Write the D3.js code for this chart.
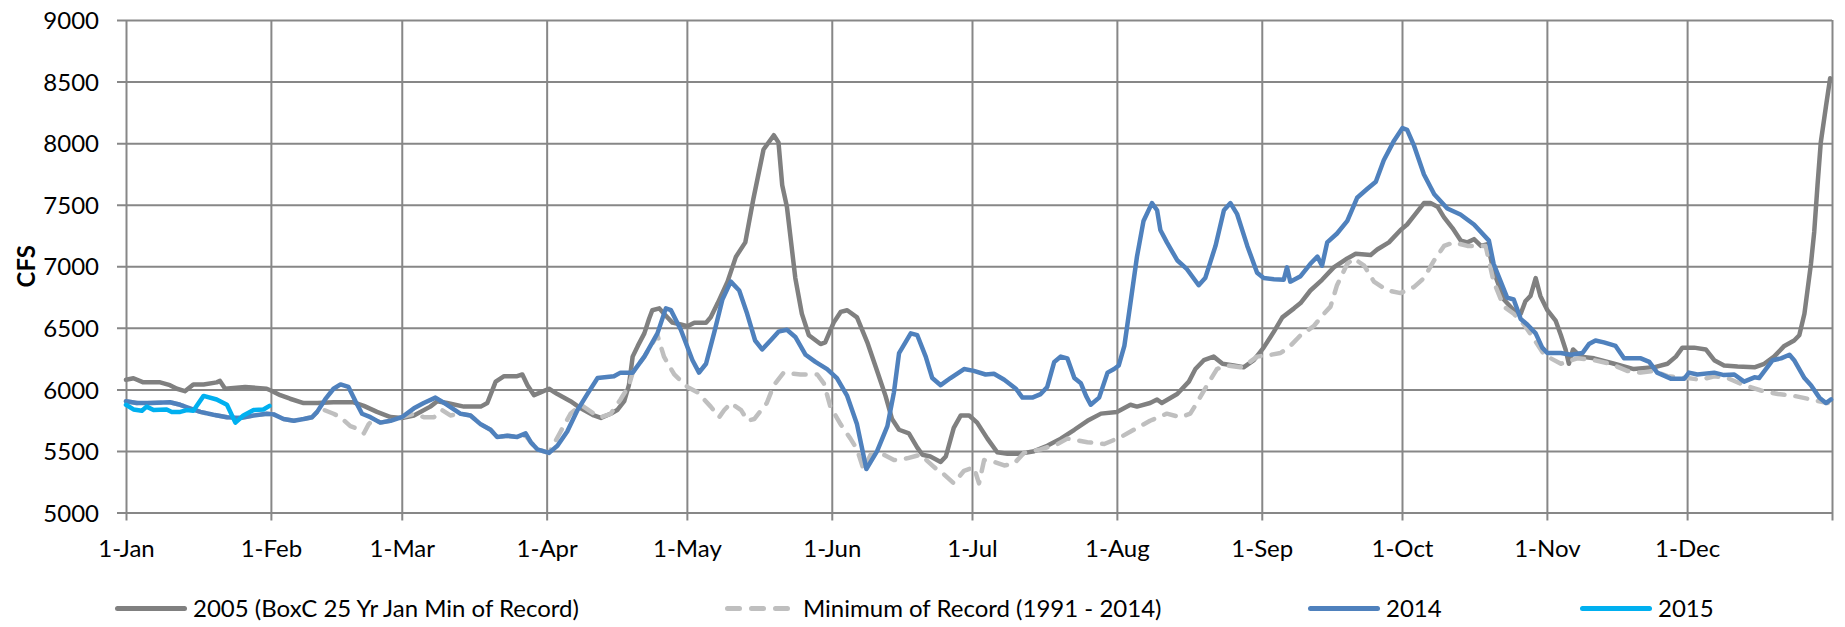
<!DOCTYPE html>
<html>
<head>
<meta charset="utf-8">
<script src="https://cdnjs.cloudflare.com/ajax/libs/d3/7.8.5/d3.min.js"></script>
<style>
  body { margin: 0; background: #ffffff; }
  text { font-family: Lato, "Open Sans", sans-serif; fill: #000; }
</style>
</head>
<body>
<script>
// month gridlines (day of year) and their labels
var monthDays = [0, 31, 59, 90, 120, 151, 181, 212, 243, 273, 304, 334, 365];
var monthLabels = ["1-Jan", "1-Feb", "1-Mar", "1-Apr", "1-May", "1-Jun",
                   "1-Jul", "1-Aug", "1-Sep", "1-Oct", "1-Nov", "1-Dec", ""];
var cfsTicks = [5000, 5500, 6000, 6500, 7000, 7500, 8000, 8500, 9000];

var seriesNames = ["2005 (BoxC 25 Yr Jan Min of Record)", "Minimum of Record (1991 - 2014)", "2014", "2015"];

// [day of year, CFS]
var flow2005 = [
  [0,6078],[1.6,6090],[3.7,6057],[7.3,6057],[9.4,6034],[10.9,6005],[12.6,5985],[14.4,6040],[16.6,6040],
  [19.4,6057],[20.1,6069],[21.2,6005],[25.5,6020],[30.1,6005],[31,5991],[33,5953],[35.1,5924],[38,5889],
  [40.9,5889],[44.4,5895],[48.7,5895],[50.9,5866],[53.7,5817],[56.6,5775],[59,5768],[61.6,5788],[65.1,5860],
  [66.6,5904],[68.7,5889],[72.3,5860],[75.9,5860],[77.3,5889],[79.1,6063],[80.9,6107],[83.7,6107],[84.8,6121],
  [85.9,6034],[87.3,5953],[88.7,5976],[90.5,6005],[92.3,5962],[95.1,5904],[97.3,5846],[100.1,5788],[101.6,5768],
  [103.7,5802],[105.1,5832],[106.6,5904],[107.6,6034],[108.4,6266],[109.5,6353],[110.9,6455],[111.9,6571],
  [112.6,6643],[114.1,6658],[115.1,6614],[116.9,6542],[118.7,6527],[120.1,6513],[121.6,6542],[124.1,6542],
  [125.1,6585],[126.6,6701],[128.7,6875],[130.5,7078],[132.5,7194],[134.2,7542],[136.4,7948],[138.6,8064],
  [139.6,8006],[140.4,7658],[141.4,7484],[143.2,6904],[144.6,6614],[146.1,6440],[148.6,6368],[149.6,6382],
  [151.4,6542],[152.9,6629],[154.3,6643],[156.4,6585],[158.6,6382],[160.7,6150],[162.5,5947],[163.9,5759],
  [165.4,5672],[167.5,5643],[169.3,5527],[170.4,5469],[172.1,5455],[174.3,5411],[175.4,5455],[177.1,5687],
  [178.6,5788],[180.4,5788],[182.1,5730],[184.3,5600],[186.4,5489],[188.6,5478],[191.4,5478],[194.3,5498],
  [197.1,5542],[200,5600],[202.9,5672],[205.7,5745],[208.6,5803],[212,5817],[214.9,5875],[216.3,5860],
  [219.1,5889],[220.6,5918],[221.6,5889],[224.9,5962],[227.4,6063],[228.8,6165],[230.6,6237],[232.7,6266],
  [234.6,6208],[237,6194],[239.1,6179],[241.3,6237],[243.4,6339],[245.6,6469],[247.4,6585],[249.9,6658],
  [251.3,6701],[253.4,6803],[255.9,6890],[258.4,6991],[261.3,7063],[263.1,7101],[266.3,7092],[267.7,7136],
  [270.2,7194],[272.7,7295],[274.1,7339],[275.6,7411],[277.7,7513],[279.1,7513],[280.6,7484],[282,7397],
  [283.8,7310],[285.6,7208],[287,7194],[288.4,7220],[289.9,7165],[291.3,7180],[292.6,6962],[294.8,6730],
  [296.9,6643],[298.4,6614],[299.4,6716],[300.5,6759],[301.6,6904],[302.6,6759],[304.1,6643],[305.9,6556],
  [307,6440],[308,6324],[308.7,6208],[309.6,6324],[311.2,6266],[314.1,6252],[318.4,6208],[322.6,6165],
  [326.9,6179],[329.8,6208],[331.6,6266],[333,6339],[335.5,6339],[338,6324],[339.8,6237],[341.9,6194],
  [344.8,6185],[348.4,6179],[350.5,6208],[352.6,6266],[354.8,6353],[356.9,6397],[358,6440],[359.1,6614],
  [360.5,7020],[361.2,7281],[361.9,7658],[362.6,8006],[363.7,8296],[364.6,8527]
];

var flowMin = [
  [0,5904],[2.3,5889],[5.1,5889],[9.4,5895],[11.6,5875],[13.7,5846],[15.9,5817],[18.7,5794],[21.6,5774],
  [24.4,5768],[27.3,5788],[30.1,5802],[31.6,5797],[33.7,5759],[35.9,5745],[38,5759],[39.8,5774],[41.6,5845],
  [44.4,5802],[45.9,5774],[48,5701],[50.1,5672],[50.9,5643],[51.9,5716],[53,5759],[54.4,5730],[56.6,5745],
  [59,5774],[61.6,5802],[63.7,5774],[65.9,5774],[67.6,5832],[69.4,5788],[71.6,5802],[73.7,5788],[75.9,5716],
  [78,5672],[79.4,5614],[81.6,5623],[83.7,5614],[85.5,5625],[86.6,5571],[88,5513],[90.5,5484],[93,5658],
  [95.1,5802],[97.3,5875],[100.1,5802],[101.6,5774],[103.7,5802],[105.8,5918],[107.6,6030],[108.4,6136],
  [110.9,6266],[113.7,6440],[115.1,6266],[117.3,6121],[120.1,6020],[122.3,5976],[125.1,5860],[126.9,5774],
  [128,5832],[129.4,5889],[131.6,5832],[133,5745],[134.4,5759],[135.9,5832],[137.1,5889],[138.6,6034],
  [140.7,6136],[144.3,6121],[147.9,6121],[149.3,6049],[150.7,5860],[152.9,5716],[155,5600],[156.4,5513],
  [157.8,5350],[159.3,5469],[161.4,5484],[164.3,5426],[167.1,5440],[170,5469],[172.9,5368],[175,5310],
  [177.1,5237],[179.3,5339],[181.4,5368],[182.5,5237],[183.6,5426],[185.7,5411],[187.9,5382],[190,5397],
  [192.1,5484],[195.7,5513],[199.3,5556],[201.4,5600],[205.7,5571],[209.3,5556],[212.9,5614],[215.6,5672],
  [219.1,5745],[222.7,5803],[225.6,5774],[227.7,5803],[229.1,5889],[231.3,6034],[233.4,6165],[235.6,6194],
  [238.4,6179],[239.9,6208],[242,6266],[244.9,6281],[247,6295],[249.1,6353],[251.3,6440],[254.1,6513],
  [256.3,6614],[257.7,6672],[259.1,6846],[261.3,7020],[262.7,7063],[264.9,7005],[267,6875],[269.9,6803],
  [272.7,6782],[275.6,6832],[277.7,6904],[279.9,7049],[282,7165],[284.1,7194],[287,7165],[290.9,7165],
  [292.6,6875],[294.8,6672],[296.9,6614],[299.1,6527],[301.2,6411],[303.4,6281],[307,6208],[310.5,6252],
  [314.1,6237],[317.6,6208],[321.2,6150],[324.1,6136],[326.9,6150],[329.8,6107],[334.1,6092],[336.9,6078],
  [339.8,6107],[342.6,6092],[346.2,6034],[349.8,5991],[353.4,5962],[356.9,5947],[360.5,5918],[364.1,5889]
];

var flow2014 = [
  [0,5904],[2.3,5889],[5.1,5889],[9.4,5895],[11.6,5875],[13.7,5846],[15.9,5817],[18.7,5794],[21.6,5774],
  [24.4,5768],[27.3,5788],[30.1,5802],[31.6,5797],[33.7,5759],[35.9,5745],[38,5759],[39.8,5774],[40.9,5817],
  [42.6,5918],[44.4,6005],[45.9,6040],[47.6,6020],[49.1,5904],[50.5,5802],[52.3,5774],[54.4,5730],[56.6,5745],
  [59,5774],[61.6,5846],[63.7,5889],[66.2,5933],[68.7,5875],[71.6,5802],[73.7,5788],[75.9,5716],[78,5672],
  [79.4,5614],[81.6,5623],[83.7,5614],[85.5,5643],[86.6,5571],[88,5513],[90.5,5484],[92.3,5542],[94.4,5658],
  [96.6,5832],[98.7,5962],[100.9,6092],[104.4,6107],[105.8,6136],[108.4,6136],[110.9,6266],[113.7,6455],
  [115.5,6658],[116.6,6643],[118.7,6484],[121.2,6237],[122.6,6136],[124.1,6208],[125.9,6469],[127.6,6730],
  [129.4,6875],[131.2,6803],[132.9,6614],[134.6,6397],[136.1,6324],[137.9,6397],[139.6,6469],[141.4,6484],
  [143.2,6426],[145.4,6281],[147.5,6223],[150,6165],[152.1,6092],[154.3,5947],[156.4,5716],[158.4,5353],
  [160.7,5498],[162.9,5701],[164.3,5976],[165.4,6295],[167.9,6455],[169.3,6440],[171.1,6266],[172.5,6092],
  [174.3,6034],[176.4,6092],[179.3,6165],[181.4,6150],[183.9,6121],[185.7,6127],[187.9,6078],[190.4,6005],
  [191.8,5933],[193.9,5933],[195.7,5962],[197.1,6020],[198.6,6223],[200,6266],[201.4,6252],[202.9,6092],
  [204.3,6049],[205.4,5947],[206.4,5875],[208.2,5933],[210,6136],[211.4,6165],[212.4,6194],[213.6,6353],
  [214.9,6701],[216.3,7078],[217.7,7368],[219.5,7513],[220.6,7455],[221.3,7295],[222.7,7194],[224.9,7049],
  [227,6976],[229.5,6846],[230.9,6904],[233.1,7165],[234.9,7455],[236.3,7513],[237.7,7426],[239.9,7165],
  [242,6948],[243.4,6904],[245.6,6895],[247.7,6890],[248.4,6991],[249.1,6875],[251.3,6919],[253.4,7020],
  [254.9,7078],[255.9,7005],[257,7194],[259.1,7266],[261.3,7368],[263.4,7556],[265.6,7629],[267.4,7687],
  [269.1,7861],[271.3,8020],[273.1,8122],[274.1,8107],[275.6,7977],[277.7,7745],[279.9,7585],[282.7,7469],
  [285.5,7420],[288.4,7339],[291.6,7208],[292.6,7020],[295.5,6745],[296.9,6730],[298.4,6571],[299.8,6527],
  [301.6,6455],[303,6339],[304.1,6295],[307,6295],[309.1,6281],[311.6,6295],[313,6368],[314.4,6397],
  [316.2,6382],[318.7,6353],[320.5,6252],[324.1,6252],[325.9,6223],[327.6,6136],[330.5,6087],[333.4,6087],
  [334.4,6136],[336.2,6121],[339.8,6136],[341.9,6116],[344.1,6121],[346.2,6063],[348.4,6098],[349.4,6092],
  [352.3,6237],[354.1,6252],[355.9,6281],[356.9,6237],[359.1,6092],[360.5,6034],[362.3,5933],[363.7,5889],
  [364.8,5918]
];

var flow2015 = [
  [0,5875],[1.6,5837],[3.4,5826],[4.4,5860],[5.9,5832],[8.7,5837],[9.8,5817],[11.6,5817],[13,5832],
  [14.4,5826],[16.6,5947],[19.4,5918],[21.6,5875],[23.4,5730],[25.1,5788],[27.3,5832],[29.4,5837],[30.7,5866]
];

var svgWidth = 1845;
var svgHeight = 627;

var leftMargin = 126;
var topMargin = 20;

var chartWidth = 1706;
var chartHeight = 492.5;

var gridColor = "#878787";
var fontSize = "24px";

var svg = d3.select("body")
    .append("svg")
    .attr("width", svgWidth)
    .attr("height", svgHeight);

var chartGroup = svg.append("g")
    .attr("transform", `translate(${leftMargin}, ${topMargin})`);

var xScale = d3.scaleLinear()
    .domain([0, 365])
    .range([0, chartWidth]);
var yScale = d3.scaleLinear()
    .domain([5000, 9000])
    .range([chartHeight, 0]);

// horizontal gridlines + y labels
var yAxis = d3.axisLeft(yScale)
    .tickValues(cfsTicks)
    .tickFormat(d3.format("d"))
    .tickSizeOuter(0);
var yAxisG = chartGroup.append("g").call(yAxis);
yAxisG.select(".domain").remove();
yAxisG.selectAll(".tick line")
    .attr("x1", -9)
    .attr("x2", chartWidth)
    .attr("stroke", gridColor)
    .attr("stroke-width", 2);
yAxisG.selectAll(".tick text")
    .attr("x", -27)
    .attr("dy", "0.36em")
    .style("font-size", fontSize)
    .style("font-family", "Lato, sans-serif");

// vertical month gridlines + labels
var xAxis = d3.axisBottom(xScale)
    .tickValues(monthDays)
    .tickFormat((d, i) => monthLabels[i])
    .tickSizeOuter(0);
var xAxisG = chartGroup.append("g")
    .attr("transform", `translate(0, ${chartHeight})`)
    .call(xAxis);
xAxisG.select(".domain").remove();
xAxisG.selectAll(".tick line")
    .attr("y1", -chartHeight)
    .attr("y2", 8)
    .attr("stroke", gridColor)
    .attr("stroke-width", 2);
xAxisG.selectAll(".tick text")
    .attr("y", 44)
    .attr("dy", 0)
    .style("font-size", fontSize)
    .style("font-family", "Lato, sans-serif");

// axis title
chartGroup.append("text")
    .attr("transform", "rotate(-90)")
    .attr("x", -chartHeight / 2)
    .attr("y", -101)
    .attr("text-anchor", "middle")
    .attr("dominant-baseline", "central")
    .style("font-size", fontSize)
    .style("font-weight", "bold")
    .text("CFS");

var line = d3.line()
    .x(d => xScale(d[0]))
    .y(d => yScale(d[1]));

var seriesList = [
    { data: flow2005, color: "#808080", dash: null },
    { data: flowMin,  color: "#BFBFBF", dash: "12,11" },
    { data: flow2014, color: "#4F81BD", dash: null },
    { data: flow2015, color: "#00B0F0", dash: null }
];

seriesList.forEach(function(s) {
    chartGroup.append("path")
        .datum(s.data)
        .attr("d", line)
        .attr("fill", "none")
        .attr("stroke", s.color)
        .attr("stroke-width", 4.5)
        .attr("stroke-linejoin", "round")
        .attr("stroke-linecap", "round")
        .attr("stroke-dasharray", s.dash);
});

// legend
var legendY = 608.5;
var legendX = [115, 725, 1308, 1580];
var legendG = svg.append("g");
seriesList.forEach(function(s, i) {
    legendG.append("line")
        .attr("x1", legendX[i] + 2.5)
        .attr("x2", legendX[i] + 69.5)
        .attr("y1", legendY)
        .attr("y2", legendY)
        .attr("stroke", s.color)
        .attr("stroke-width", 5)
        .attr("stroke-linecap", "round")
        .attr("stroke-dasharray", s.dash ? "12,12" : null);
    legendG.append("text")
        .attr("x", legendX[i] + 78)
        .attr("y", legendY)
        .attr("dy", "0.36em")
        .style("font-size", fontSize)
        .text(seriesNames[i]);
});
</script>
</body>
</html>
